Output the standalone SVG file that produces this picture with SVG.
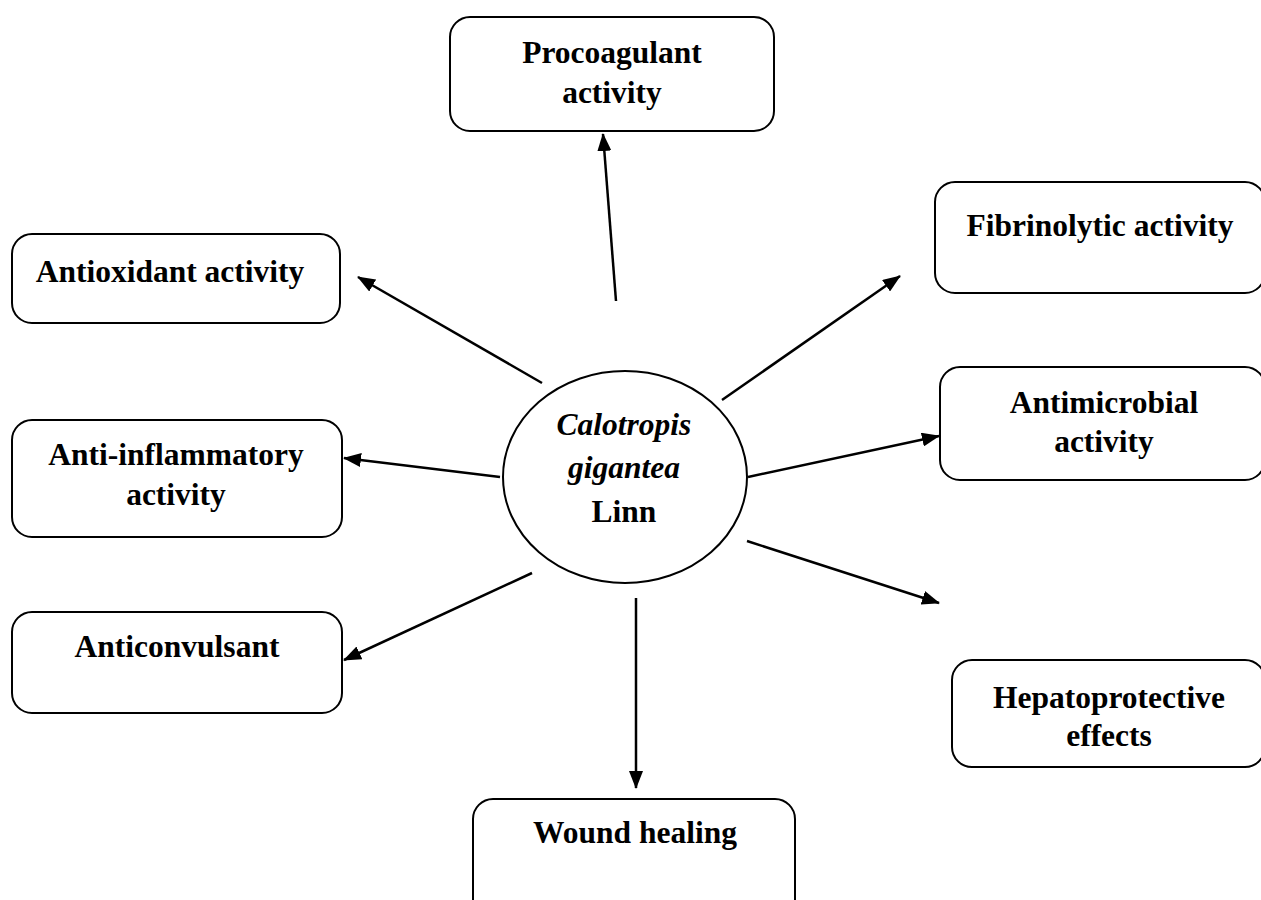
<svg xmlns="http://www.w3.org/2000/svg" width="1261" height="900" viewBox="0 0 1261 900">
<style>
.box{fill:#fff;stroke:#000;stroke-width:2}
.t{font-family:"Liberation Serif","Times New Roman",serif;font-weight:bold;font-size:31.5px;fill:#000;text-anchor:middle}
.i{font-style:italic}
.c{stroke:#000;stroke-width:2.5;fill:none;marker-end:url(#ah)}
</style>
<defs>
<marker id="ah" markerUnits="userSpaceOnUse" markerWidth="18" markerHeight="14" refX="17" refY="7" orient="auto">
<path d="M0,0 L18,7 L0,14 z" fill="#000"/>
</marker>
</defs>
<rect width="1261" height="900" fill="#fff"/>
<g id="connectors">
<line class="c" x1="616" y1="301" x2="603" y2="134"/>
<line class="c" x1="722" y1="400" x2="900" y2="276"/>
<line class="c" x1="748" y1="477" x2="939" y2="436"/>
<line class="c" x1="747" y1="541" x2="939" y2="603"/>
<line class="c" x1="636" y1="598" x2="636" y2="788"/>
<line class="c" x1="532" y1="573" x2="344" y2="660"/>
<line class="c" x1="500" y1="477" x2="344" y2="458"/>
<line class="c" x1="542" y1="383" x2="358" y2="277"/>
</g>
<g id="center">
<ellipse cx="625" cy="477" rx="122" ry="106" fill="#fff" stroke="#000" stroke-width="2"/>
<text class="t i" x="624" y="435">Calotropis</text>
<text class="t i" x="624" y="478">gigantea</text>
<text class="t" x="624" y="522">Linn</text>
</g>
<g id="procoagulant">
<rect class="box" x="450" y="17" width="324" height="114" rx="20"/>
<text class="t" x="612" y="63">Procoagulant</text>
<text class="t" x="612" y="103">activity</text>
</g>
<g id="fibrinolytic">
<rect class="box" x="935" y="182" width="330" height="111" rx="20"/>
<text class="t" x="1100" y="236">Fibrinolytic activity</text>
</g>
<g id="antimicrobial">
<rect class="box" x="940" y="367" width="325" height="113" rx="20"/>
<text class="t" x="1104" y="413">Antimicrobial</text>
<text class="t" x="1104" y="452">activity</text>
</g>
<g id="hepatoprotective">
<rect class="box" x="952" y="660" width="313" height="107" rx="20"/>
<text class="t" x="1109" y="708">Hepatoprotective</text>
<text class="t" x="1109" y="746">effects</text>
</g>
<g id="wound">
<rect class="box" x="473" y="799" width="322" height="120" rx="20"/>
<text class="t" x="635" y="843">Wound healing</text>
</g>
<g id="antioxidant">
<rect class="box" x="12" y="234" width="328" height="89" rx="20"/>
<text class="t" x="170" y="282">Antioxidant activity</text>
</g>
<g id="antiinflammatory">
<rect class="box" x="12" y="420" width="330" height="117" rx="20"/>
<text class="t" x="176" y="465">Anti-inflammatory</text>
<text class="t" x="176" y="505">activity</text>
</g>
<g id="anticonvulsant">
<rect class="box" x="12" y="612" width="330" height="101" rx="20"/>
<text class="t" x="177" y="657">Anticonvulsant</text>
</g>
</svg>
